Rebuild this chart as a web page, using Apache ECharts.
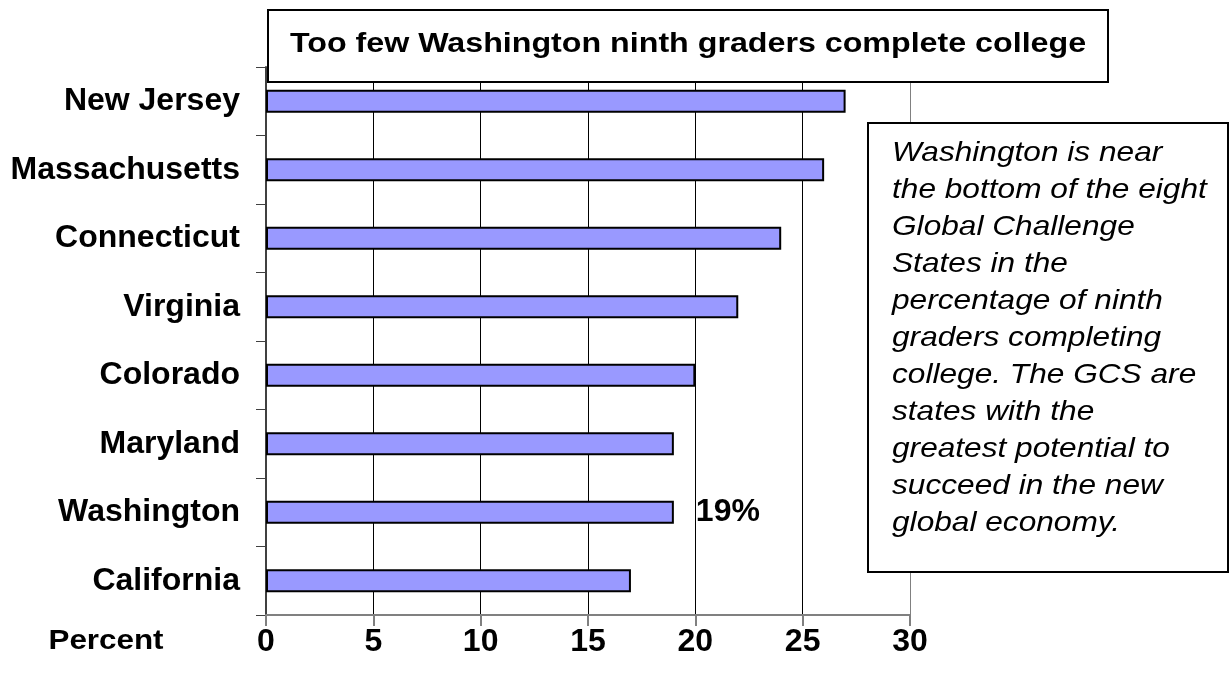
<!DOCTYPE html>
<html><head><meta charset="utf-8">
<script src="https://cdn.jsdelivr.net/npm/echarts@6/dist/echarts.min.js"></script>
<style>html,body{margin:0;padding:0;background:#fff}#c{width:1230px;height:687px}</style>
</head><body><div id="c"></div>
<script>
const categories = ['New Jersey','Massachusetts','Connecticut','Virginia','Colorado','Maryland','Washington','California'];
const values = [27, 26, 24, 22, 20, 19, 19, 17];
const highlightCategory = 'Washington';
const xTicks = [0, 5, 10, 15, 20, 25, 30];
const titleText = 'Too few Washington ninth graders complete college';
const axisName = 'Percent';
const noteLines = ['Washington is near','the bottom of the eight','Global Challenge','States in the','percentage of ninth','graders completing','college. The GCS are','states with the','greatest potential to','succeed in the new','global economy.'];

const F = '"Liberation Sans", Arial, sans-serif';
const chart = echarts.init(document.getElementById('c'), null, {renderer:'canvas'});
const data = values.map((v,i)=>{
  const d = {value:v};
  if (categories[i]===highlightCategory) {
    d.label = {show:true, position:'right', distance:22, formatter:'{c}%', color:'#000', fontFamily:F, fontWeight:'bold', fontSize:32};
  }
  return d;
});
const noteGraphics = noteLines.map((t,i)=>({
  type:'text', x:892, y:153+i*37, scaleX:1.13, z:101,
  style:{text:t, x:0, y:0, textAlign:'left', textVerticalAlign:'middle', fill:'#000', font:'italic 28px '+F}
}));
chart.setOption({
  animation:false,
  backgroundColor:'#fff',
  grid:{left:266, right:320, top:67, bottom:72, containLabel:false},
  xAxis:{type:'value', min:xTicks[0], max:xTicks[xTicks.length-1], interval:5,
    axisLine:{show:true, lineStyle:{color:'#808080', width:2}},
    axisTick:{show:true, inside:false, length:11, lineStyle:{color:'#808080', width:2}},
    axisLabel:{color:'#000', fontFamily:F, fontWeight:'bold', fontSize:32, margin:11},
    splitLine:{show:true, lineStyle:{color:['#808080','#000','#000','#000','#000','#000','#808080'], width:1}}
  },
  yAxis:{type:'category', data:categories, inverse:true,
    axisLine:{show:true, lineStyle:{color:'#404040', width:2}},
    axisTick:{show:true, length:10, alignWithLabel:false, lineStyle:{color:'#404040', width:1}},
    axisLabel:{color:'#000', fontFamily:F, fontWeight:'bold', fontSize:32, margin:26},
    splitLine:{show:false}
  },
  series:[{type:'bar', data:data, barWidth:23,
    itemStyle:{color:'#9999FF', borderColor:'#000', borderWidth:2},
    label:{show:false}
  }],
  graphic:[
    {type:'rect', z:100, shape:{x:268, y:10, width:840, height:72}, style:{fill:'#fff', stroke:'#000', lineWidth:2}},
    {type:'text', z:101, x:688, y:44, scaleX:1.15, style:{text:titleText, x:0, y:0, textAlign:'center', textVerticalAlign:'middle', fill:'#000', font:'bold 28px '+F}},
    {type:'rect', z:100, shape:{x:868, y:123, width:360, height:449}, style:{fill:'#fff', stroke:'#000', lineWidth:2}},
    ...noteGraphics,
    {type:'text', z:101, x:106, y:641, scaleX:1.12, style:{text:axisName, x:0, y:0, textAlign:'center', textVerticalAlign:'middle', fill:'#000', font:'bold 28px '+F}}
  ]
});
</script></body></html>
